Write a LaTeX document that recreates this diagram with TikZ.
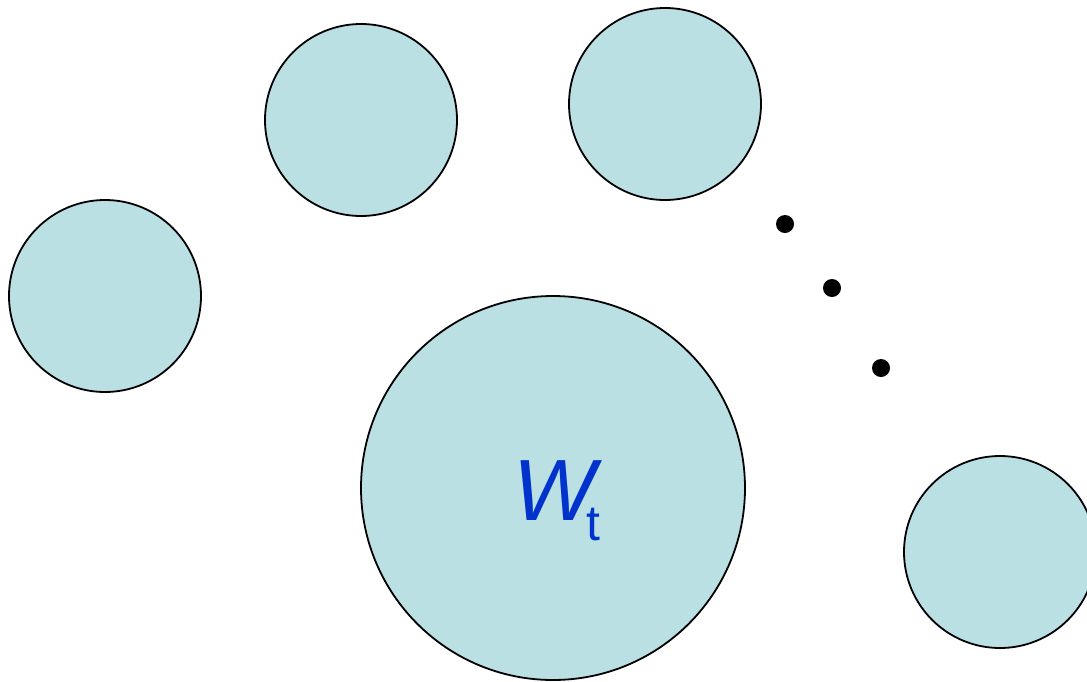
\documentclass[tikz,border=0pt]{standalone}
\usepackage{fontspec}
\setmainfont{Liberation Sans}
\definecolor{cfill}{RGB}{187,224,227}
\definecolor{wblue}{RGB}{0,51,204}
\begin{document}
\begin{tikzpicture}[x=1pt,y=-1pt,
  ball/.style={circle,draw=black,fill=cfill,line width=1.8pt,inner sep=0pt},
  dotc/.style={circle,fill=black,inner sep=0pt,minimum size=18pt}]
\useasboundingbox (0,0) rectangle (1087,681);
\clip (0,0) rectangle (1087,681);
\node[ball,minimum size=192pt] (c1) at (105,296) {};
\node[ball,minimum size=192pt] (c2) at (361,120) {};
\node[ball,minimum size=192pt] (c3) at (665,104) {};
\node[ball,minimum size=384pt] (big) at (553,488) {};
\node[ball,minimum size=192pt] (c5) at (1000,552) {};
\node[dotc] (d1) at (785,224) {};
\node[dotc] (d2) at (832,288) {};
\node[dotc] (d3) at (881,368) {};
\node[anchor=base west,inner sep=0pt,text=wblue] (wt) at (513,520)
  {\fontsize{87}{87}\selectfont\itshape W\upshape\kern-9pt\fontsize{50}{50}\selectfont\raisebox{-20pt}{t}};
\end{tikzpicture}
\end{document}
